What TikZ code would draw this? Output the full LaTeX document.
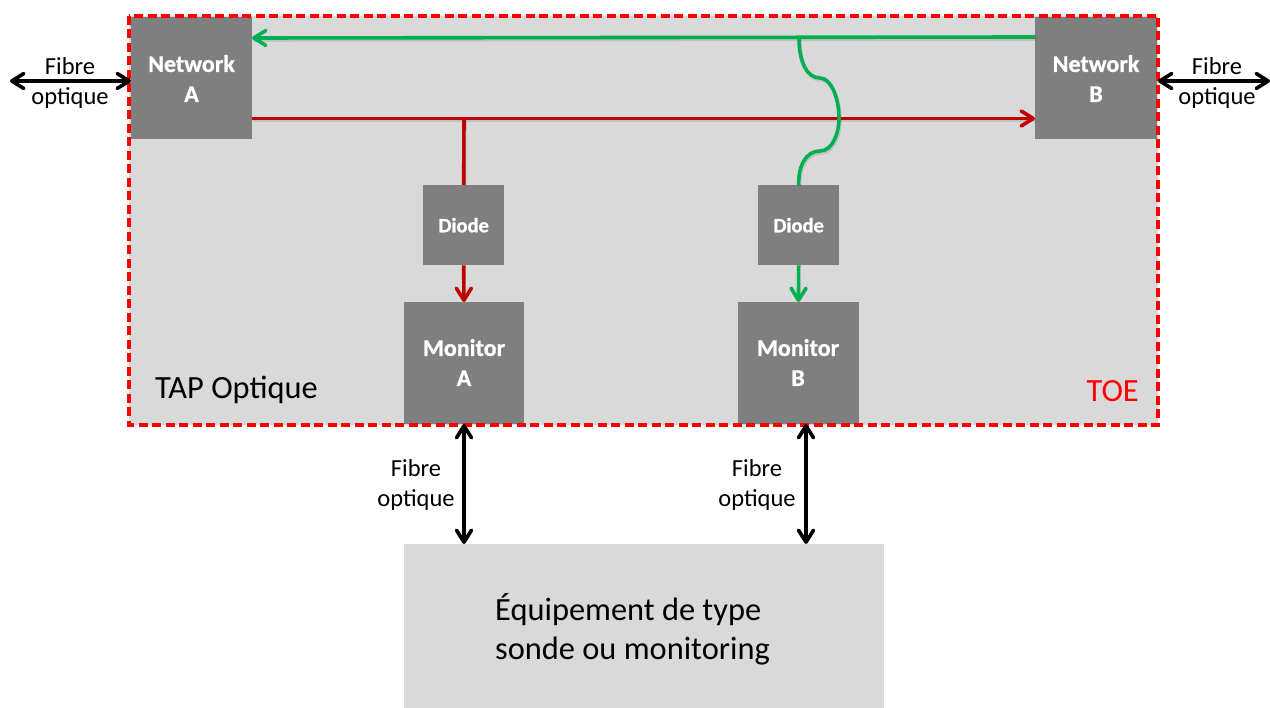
\documentclass[tikz,border=0pt]{standalone}
\usepackage{fontspec}
\setmainfont{Carlito}[BoldFeatures={FakeBold=0.8}]
\usetikzlibrary{arrows.meta,calc}
\definecolor{panelgrey}{HTML}{D9D9D9}
\definecolor{boxgrey}{HTML}{7F7F7F}
\definecolor{toered}{HTML}{FF0000}
\definecolor{linered}{HTML}{C00000}
\definecolor{linegreen}{HTML}{00B050}
\tikzset{
  x=1pt,y=-1pt,
  block/.style={fill=boxgrey,draw=none,inner sep=0pt,text=white,align=center,
    font=\fontsize{24}{30}\selectfont\bfseries},
  diodebox/.style={block,font=\fontsize{20.5}{24}\selectfont\bfseries},
  panel/.style={fill=panelgrey,draw=none,inner sep=0pt},
  label/.style={inner sep=0pt,align=center,text=black,font=\fontsize{24.5}{30}\selectfont},
  bigtext/.style={inner sep=0pt,font=\fontsize{32.4}{39}\selectfont},
  fibre/.style={line width=3.6pt,black,{Straight Barb[length=12pt,width=15pt,round]}-{Straight Barb[length=12pt,width=15pt,round]}},
  redline/.style={line width=3.6pt,linered},
  greenline/.style={line width=3.6pt,linegreen},
  shade/.style={line width=3.6pt,black,opacity=.10,transform canvas={xshift=1pt,yshift=-2pt}},
  ahead/.style={-{Straight Barb[length=12pt,width=15pt,round]}},
}
\begin{document}
\begin{tikzpicture}
\useasboundingbox (0,0) rectangle (1270,708);
% panels
\path[panel] (129,16) rectangle (1158,425);
\node[panel,minimum width=480.5pt,minimum height=164pt,anchor=north west] (equip) at (403.5,544) {};
% blocks
\node[block,minimum width=121pt,minimum height=122pt,anchor=north west] (netA) at (131,17) {};
\node[block,minimum width=122pt,minimum height=122pt,anchor=north west] (netB) at (1035,17) {};
\node[diodebox,minimum width=81pt,minimum height=80pt,anchor=north west] (diodeA) at (423,185) {Diode};
\node[diodebox,minimum width=81pt,minimum height=80pt,anchor=north west] (diodeB) at (758,185) {Diode};
\node[block,minimum width=120.5pt,minimum height=122pt,anchor=north west] (monA) at (403.5,302) {};
\node[block,minimum width=121.5pt,minimum height=122pt,anchor=north west] (monB) at (737.5,302) {};
% block texts
\node[block,fill=none] (netAt) at (191.5,78.5) {Network\\A};
\node[block,fill=none] (netBt) at (1096,78.5) {Network\\B};
\node[block,fill=none] (monAt) at (464,362.5) {Monitor\\A};
\node[block,fill=none] (monBt) at (798,362.5) {Monitor\\B};
% junction coordinates
\coordinate (gA) at (252,38);
\coordinate (gB) at (1035,37);
\coordinate (gJ) at (799,38);
\coordinate (rA) at (252,118.5);
\coordinate (rB) at (1035,118.5);
\coordinate (rJ) at (464,118.5);
% shadows
\draw[shade] (gB) -- (gA);
\draw[shade] (rA) -- (rB);
\draw[shade] (rJ) -- (diodeA.north);
\draw[shade] (gJ) .. controls (799,62) and (807,78) .. (820,78) .. controls (831,78) and (839,98) .. (839,118) .. controls (839,136) and (831,151) .. (820,151) .. controls (806,151) and (798,166) .. (diodeB.north);
% connectors
\draw[greenline,ahead] (gB) -- (gA);
\draw[redline,ahead] (rA) -- (rB);
\draw[redline] (rJ) -- (diodeA.north);
\draw[redline,ahead] (diodeA.south) -- (monA.north);
\draw[greenline,ahead] (diodeB.south) -- (monB.north);
\draw[greenline] (gJ) .. controls (799,62) and (807,78) .. (820,78) .. controls (831,78) and (839,98) .. (839,118) .. controls (839,136) and (831,151) .. (820,151) .. controls (806,151) and (798,166) .. (diodeB.north);
% TOE outline
\draw[toered,line width=3.2pt,dash pattern=on 9pt off 4.5pt] (129,16) rectangle (1158,425);
% fibre arrows
\coordinate (fL) at (10,81);
\coordinate (fLe) at (131,81);
\coordinate (fRs) at (1158,81);
\coordinate (fR) at (1270,81);
\coordinate (fA) at (464,424);
\coordinate (fAe) at (464,544);
\coordinate (fB) at (806,424);
\coordinate (fBe) at (806,544);
\draw[fibre] (fL) -- (fLe);
\draw[fibre] (fRs) -- (fR);
\draw[fibre] (fA) -- (fAe);
\draw[fibre] (fB) -- (fBe);
% labels
\node[label] (l1) at (70,83) {Fibre\\optique};
\node[label] (l2) at (1217,83) {Fibre\\optique};
\node[label] (l3) at (416,485) {Fibre\\optique};
\node[label] (l4) at (757,485) {Fibre\\optique};
\node[bigtext,anchor=base west] (tap) at (155,399) {TAP Optique};
\node[bigtext,anchor=base east,text=toered] (toe) at (1139,401.5) {TOE};
\node[bigtext,align=left,anchor=west] (eqt) at (495,629) {Équipement de type\\sonde ou monitoring};
\end{tikzpicture}
\end{document}
